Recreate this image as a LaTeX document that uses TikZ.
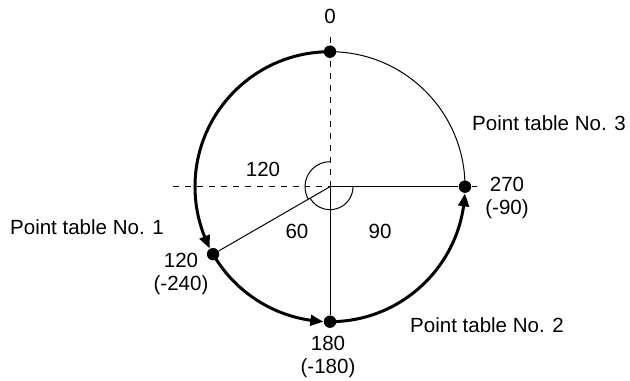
\documentclass[tikz,border=0pt]{standalone}
\usepackage{fontspec}
\setmainfont{Liberation Sans}
\usetikzlibrary{arrows.meta,bending,positioning}

\begin{document}
\begin{tikzpicture}[x=0.5bp,y=0.5bp,
  dot/.style={circle,fill=black,inner sep=0pt,minimum size=6.2bp},
  lbl/.style={font=\fontsize{10.3}{11.5}\selectfont,align=center,inner sep=0pt},
  heavy/.style={line width=1.5bp,-{Triangle[length=6.5bp,width=5.3bp,bend]}},
  thin/.style={line width=0.5bp}]
\useasboundingbox (-330,-194.3) rectangle (300,186.7);
\coordinate (o) at (0,0);
\node[dot] (p0) at (90:135) {};
\node[dot] (p1) at (210:135) {};
\node[dot] (p2) at (270:135) {};
\node[dot] (p3) at (0:135) {};
\coordinate (up) at (0,155);
\coordinate (lt) at (-157,0);
\coordinate (rt) at (147,0);
% axes
\draw[thin,dashed] (o) -- (up);
\draw[thin,dashed] (lt) -- (rt);
\draw[thin,dashed] (o) -- (p2);
\draw[thin] (o) -- (p1);
\draw[thin] (o) -- (p2);
\draw[thin] (o) -- (p3);
% circle
\draw[thin] (p3.center) arc[start angle=0,end angle=90,radius=135];
\draw[heavy] (p0.center) arc[start angle=90,end angle=207.2,radius=135];
\draw[heavy] (p1.center) arc[start angle=210,end angle=267.2,radius=135];
\draw[heavy] (p2.center) arc[start angle=270,end angle=357.2,radius=135];
% angles
\draw[thin] (o) ++(90:25) arc[start angle=90,end angle=210,radius=25];
\draw[thin] (o) ++(210:23) arc[start angle=210,end angle=360,radius=23];
% labels
\node[lbl] (l0) at (0,170) {0};
\node[lbl] (a120) at (-67,17) {120};
\node[lbl] (a60) at (-33,-45) {60};
\node[lbl] (a90) at (50,-45) {90};
\node[lbl] (v1) at (-149,-87) {120\\(-240)};
\node[lbl] (v2) at (-2,-170) {180\\(-180)};
\node[lbl] (v3) at (177,-11.5) {270\\(-90)};
\node[lbl] (t1) at (-243,-40) {Point table No. 1};
\node[lbl] (t2) at (157,-138) {Point table No. 2};
\node[lbl] (t3) at (219,64) {Point table No. 3};
\end{tikzpicture}
\end{document}
